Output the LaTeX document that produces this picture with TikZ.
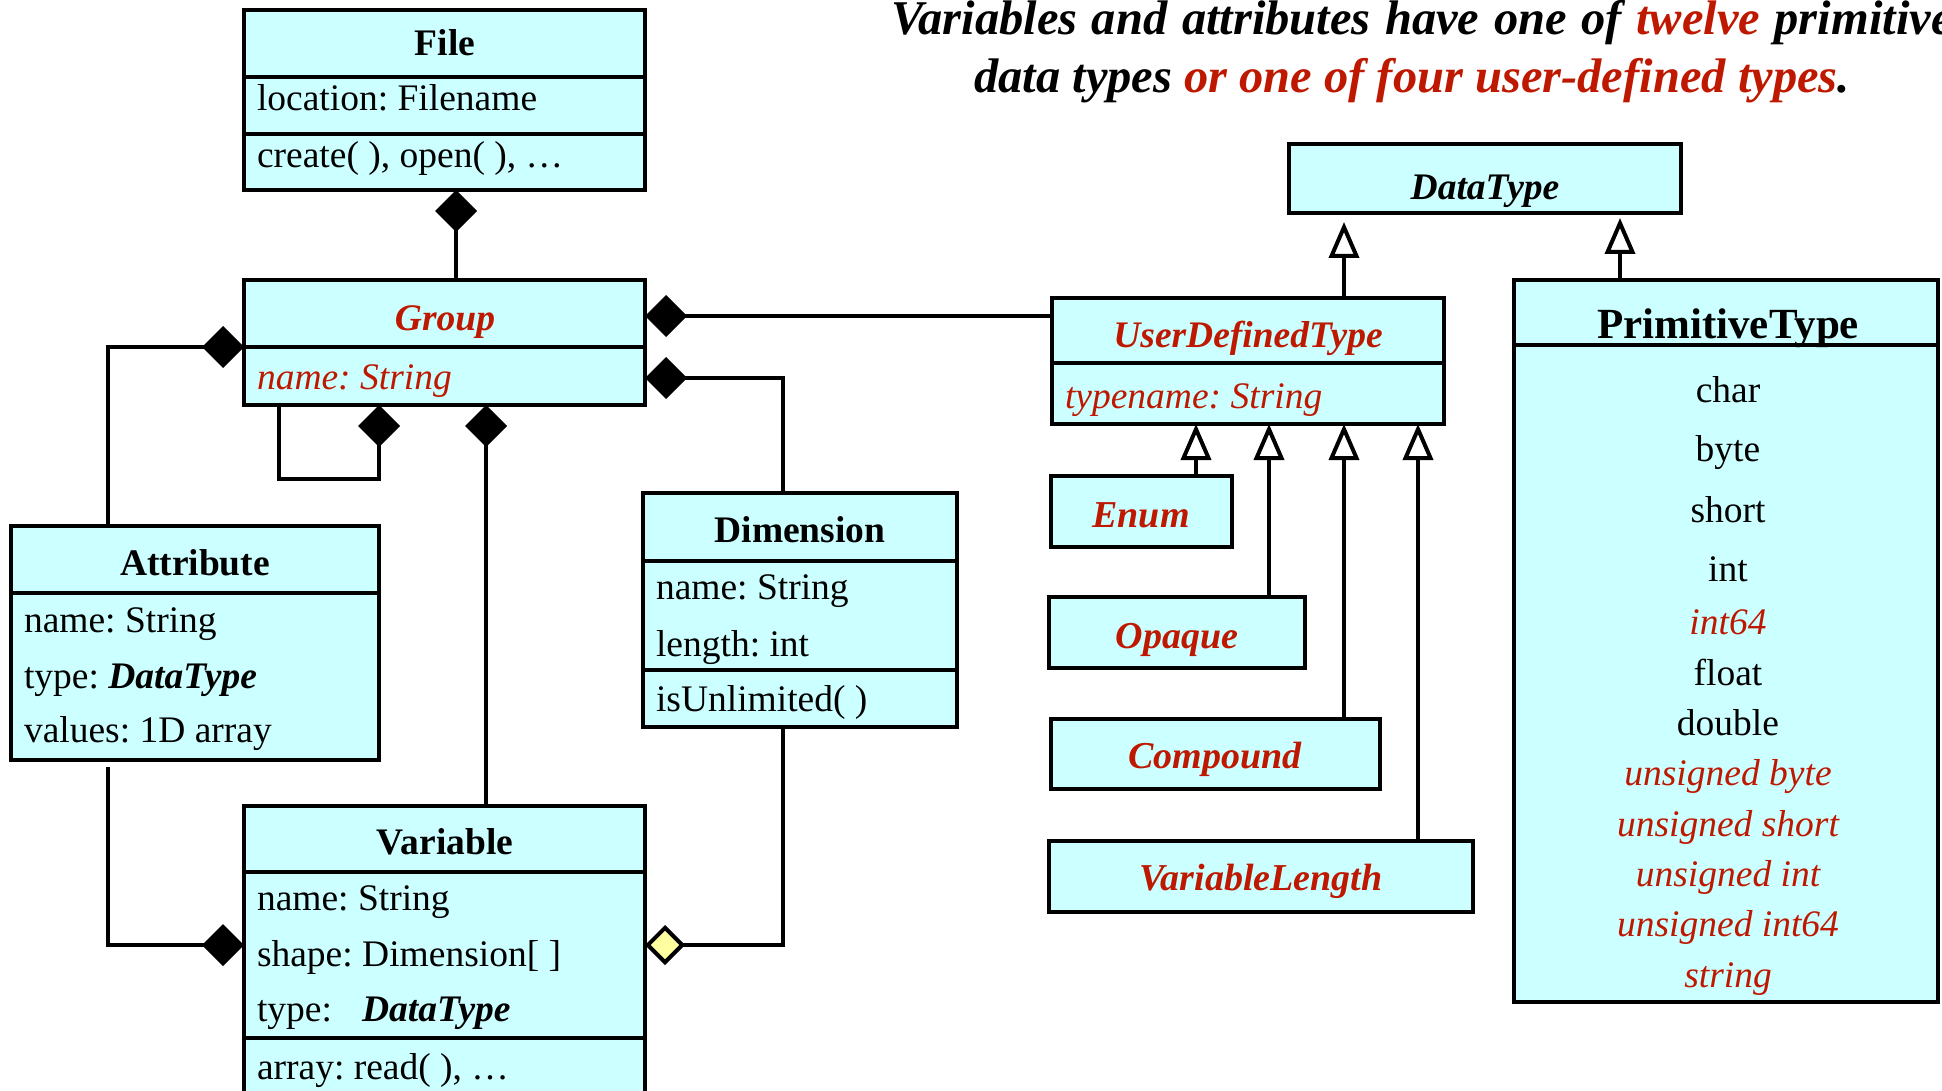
\documentclass[tikz,border=0pt]{standalone}
\usepackage{fontspec}
\setmainfont{Liberation Serif}
\usetikzlibrary{arrows.meta}
\definecolor{boxfill}{RGB}{204,255,255}
\definecolor{umlred}{RGB}{190,25,0}
\definecolor{aggfill}{RGB}{255,255,160}
\newcommand{\fs}[1]{\fontsize{#1}{#1}\selectfont}
\frenchspacing
\begin{document}
\begin{tikzpicture}[x=1pt,y=-1pt,
  box/.style={draw=black, fill=boxfill, line width=4.5pt, rectangle, inner sep=0pt, outer sep=0pt, anchor=north west},
  sepline/.style={line width=4.5pt},
  txt/.style={inner sep=0pt, outer sep=0pt, anchor=base west, font=\fs{37.5}},
  ctxt/.style={inner sep=0pt, outer sep=0pt, anchor=base, font=\fs{37.5}},
  ttl/.style={ctxt, font=\fs{37.5}\bfseries},
  rtitle/.style={ctxt, text=umlred, font=\fs{37.5}\bfseries\itshape},
  subt/.style={ctxt, text=umlred, font=\fs{38}\bfseries\itshape},
  ritem/.style={ctxt, text=umlred, font=\fs{37.5}\itshape},
  rattr/.style={txt, text=umlred, font=\fs{37.5}\itshape},
  conn/.style={line width=4pt},
  comp/.style={conn, {Diamond[length=42pt,width=42pt]}-},
  agg/.style={conn, {Diamond[length=40pt,width=40pt,fill=aggfill]}-},
  gen/.style={conn, -{Triangle[length=36pt,width=30pt,fill=white]}},
  head/.style={inner sep=0pt, outer sep=0pt, anchor=base, font=\fs{48.5}\bfseries\itshape},
]
\useasboundingbox (0,0) rectangle (1942,1091);

% ---------- heading
\node[head] (H1) at (1422,35) {\spaceskip=0.3em plus 0.1em Variables and attributes have one of \textcolor{umlred}{twelve} primitive};
\node[head] (H2) at (1412,93) {data types \textcolor{umlred}{or one of four user-defined types}.};

% ---------- helper coordinates
\coordinate (x108) at (108,0);
\coordinate (x279) at (279,0);
\coordinate (x379) at (379,0);
\coordinate (x456) at (456,0);
\coordinate (x486) at (486,0);
\coordinate (x783) at (783,0);
\coordinate (x1196) at (1196,0);
\coordinate (x1269) at (1269,0);
\coordinate (x1344) at (1344,0);
\coordinate (x1418) at (1418,0);
\coordinate (x1620) at (1620,0);
\coordinate (y316) at (0,316);
\coordinate (y347) at (0,347);
\coordinate (y378) at (0,378);
\coordinate (y479) at (0,479);
\coordinate (y945) at (0,945);

% ---------- File
\node[box, minimum width=401pt, minimum height=180pt] (File) at (244,10) {};
\draw[sepline] (244,77) -- (645,77);
\draw[sepline] (244,134) -- (645,134);
\node[ttl] (FileT) at (445,56) {File};
\node[txt] (FileA) at (257,111) {location: Filename};
\node[txt] (FileM) at (257,168) {create( ), open( ), …};

% ---------- Group
\node[box, minimum width=401pt, minimum height=125pt] (Group) at (244,280) {};
\draw[sepline] (244,347) -- (645,347);
\node[rtitle] (GroupT) at (445,330) {Group};
\node[rattr] (GroupA) at (257,389) {name: String};

% ---------- Attribute
\node[box, minimum width=368pt, minimum height=234pt] (Attr) at (11,526) {};
\draw[sepline] (11,593) -- (379,593);
\node[ttl] (AttrT) at (195,575) {Attribute};
\node[txt] (AttrA1) at (24,632) {name: String};
\node[txt] (AttrA2) at (24,688) {type: \textbf{\textit{DataType}}};
\node[txt] (AttrA3) at (24,742) {values: 1D array};

% ---------- Variable
\node[box, minimum width=401pt, minimum height=312pt] (Var) at (244,806) {};
\draw[sepline] (244,872) -- (645,872);
\draw[sepline] (244,1038) -- (645,1038);
\node[ttl] (VarT) at (445,854) {Variable};
\node[txt] (VarA1) at (257,910) {name: String};
\node[txt] (VarA2) at (257,966) {shape: Dimension[ ]};
\node[txt] (VarA3) at (257,1021) {type:};
\node[txt, font=\fs{37.5}\bfseries\itshape] (VarA3b) at (362,1021) {DataType};
\node[txt] (VarM) at (257,1079) {array: read( ), …};

% ---------- Dimension
\node[box, minimum width=314pt, minimum height=234pt] (Dim) at (643,493) {};
\draw[sepline] (643,561) -- (957,561);
\draw[sepline] (643,670) -- (957,670);
\node[ttl] (DimT) at (800,542) {Dimension};
\node[txt] (DimA1) at (656,599) {name: String};
\node[txt] (DimA2) at (656,656) {length: int};
\node[txt] (DimM) at (656,711) {isUnlimited( )};

% ---------- DataType
\node[box, minimum width=392pt, minimum height=69pt] (DT) at (1289,144) {};
\node[ctxt, font=\fs{37.5}\bfseries\itshape] (DTT) at (1485,200) {DataType};

% ---------- UserDefinedType
\node[box, minimum width=392pt, minimum height=126pt] (UDT) at (1052,298) {};
\draw[sepline] (1052,363) -- (1444,363);
\node[rtitle] (UDTT) at (1248,347) {UserDefinedType};
\node[rattr] (UDTA) at (1065,408) {typename: String};

% ---------- PrimitiveType
\node[box, minimum width=424pt, minimum height=722pt] (Prim) at (1514,280) {};
\draw[sepline] (1514,345) -- (1938,345);
\node[ctxt, font=\fs{43}\bfseries] (PrimT) at (1728,338) {PrimitiveType};
\node[ctxt] (P1) at (1728,402) {char};
\node[ctxt] (P2) at (1728,461) {byte};
\node[ctxt] (P3) at (1728,522) {short};
\node[ctxt] (P4) at (1728,581) {int};
\node[ritem] (P5) at (1728,634) {int64};
\node[ctxt] (P6) at (1728,685) {float};
\node[ctxt] (P7) at (1728,735) {double};
\node[ritem] (P8) at (1728,785) {unsigned byte};
\node[ritem] (P9) at (1728,836) {unsigned short};
\node[ritem] (P10) at (1728,886) {unsigned int};
\node[ritem] (P11) at (1728,936) {unsigned int64};
\node[ritem] (P12) at (1728,987) {string};

% ---------- user-defined subtypes
\node[box, minimum width=181pt, minimum height=71pt] (Enum) at (1051,476) {};
\node[subt] (EnumT) at (1141,527) {Enum};
\node[box, minimum width=256pt, minimum height=71pt] (Opaque) at (1049,597) {};
\node[subt] (OpaqueT) at (1177,648) {Opaque};
\node[box, minimum width=329pt, minimum height=70pt] (Compound) at (1051,719) {};
\node[subt] (CompoundT) at (1215,768) {Compound};
\node[box, minimum width=424pt, minimum height=71pt] (VarLen) at (1049,841) {};
\node[subt] (VarLenT) at (1261,890) {VariableLength};

% ---------- connectors
\draw[comp] (File.south -| x456) -- (Group.north -| x456);
\draw[comp] (Group.east |- y316) -- (UDT.west |- y316);
\draw[comp] (Group.east |- y378) -| (Dim.north -| x783);
\draw[comp] (Group.west |- y347) -| (Attr.north -| x108);
\draw[comp] (Group.south -| x379) -- (x379 |- y479) -| (Group.south -| x279);
\draw[comp] (Group.south -| x486) -- (Var.north -| x486);
\draw[conn, -{Diamond[length=42pt,width=42pt]}, shorten <=7pt] (Attr.south -| x108) |- (Var.west |- y945);
\draw[agg] (Var.east |- y945) -| (Dim.south -| x783);

\draw[gen, shorten >=9pt] (UDT.north -| x1344) -- (DT.south -| x1344);
\draw[gen, shorten >=5pt] (Prim.north -| x1620) -- (DT.south -| x1620);
\draw[gen] (Enum.north -| x1196) -- (UDT.south -| x1196);
\draw[gen] (Opaque.north -| x1269) -- (UDT.south -| x1269);
\draw[gen] (Compound.north -| x1344) -- (UDT.south -| x1344);
\draw[gen] (VarLen.north -| x1418) -- (UDT.south -| x1418);
\end{tikzpicture}
\end{document}
